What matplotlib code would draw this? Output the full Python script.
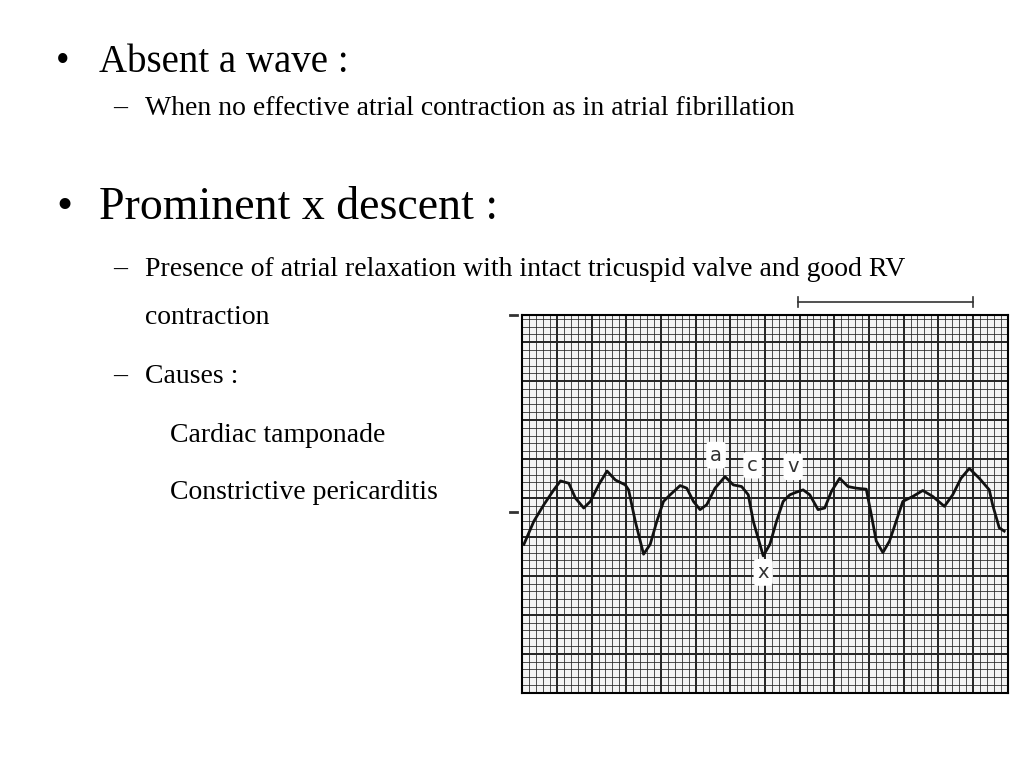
import numpy as np
import matplotlib.pyplot as plt

# trace (zoomed pixel coords, 3x)
trace_zx = [70, 100, 130, 160, 180, 205, 225, 250, 270, 295, 320, 345, 375, 385, 405, 430, 450, 470, 490,
            510, 540, 560, 580, 600, 620, 645, 675, 700, 725, 745, 760, 790, 810, 830, 850, 870, 890, 910,
            930, 955, 975, 995, 1020, 1045, 1070, 1100, 1115, 1130, 1150, 1170, 1190, 1210, 1240, 1270,
            1300, 1335, 1360, 1385, 1410, 1440, 1470, 1480, 1500, 1515]
trace_zy = [770, 700, 650, 605, 578, 585, 630, 660, 640, 590, 548, 575, 590, 605, 700, 800, 770, 700, 640,
            620, 592, 600, 640, 665, 650, 600, 565, 590, 595, 620, 700, 805, 770, 700, 640, 620, 612, 605,
            620, 665, 660, 610, 570, 595, 600, 603, 680, 760, 795, 760, 700, 640, 625, 607, 625, 655, 620,
            570, 540, 570, 605, 650, 720, 730]

wave_labels = ["a", "c", "v", "x"]
wave_zx = [648, 758, 880, 790]
wave_zy = [500, 530, 535, 855]

t = (np.array(trace_zx) - 65) / 104.3
p = 9.7 - (np.array(trace_zy) - 75) / 118.0

fig = plt.figure(figsize=(10.24, 7.68), dpi=100)
serif = "Liberation Serif"
big, huge, small = 28, 33, 20

fig.text(0.055, 0.919, "•", fontsize=big, family=serif, va="center")
fig.text(0.097, 0.919, "Absent a wave :", fontsize=big, family=serif, va="center")
fig.text(0.110, 0.859, "–", fontsize=small, family=serif, va="center")
fig.text(0.142, 0.859, "When no effective atrial contraction as in atrial fibrillation", fontsize=small,
         family=serif, va="center")
fig.text(0.055, 0.730, "•", fontsize=huge, family=serif, va="center")
fig.text(0.097, 0.730, "Prominent x descent :", fontsize=huge, family=serif, va="center")
fig.text(0.110, 0.649, "–", fontsize=small, family=serif, va="center")
fig.text(0.142, 0.649, "Presence of atrial relaxation with intact tricuspid valve and good RV", fontsize=small,
         family=serif, va="center")
fig.text(0.142, 0.586, "contraction", fontsize=small, family=serif, va="center")
fig.text(0.110, 0.510, "–", fontsize=small, family=serif, va="center")
fig.text(0.142, 0.510, "Causes :", fontsize=small, family=serif, va="center")
fig.text(0.166, 0.433, "Cardiac tamponade", fontsize=small, family=serif, va="center")
fig.text(0.166, 0.359, "Constrictive pericarditis", fontsize=small, family=serif, va="center")

ax = fig.add_axes([0.51, 0.098, 0.474, 0.492])
ax.set_xlim(0, 14)
ax.set_ylim(0, 9.7)
ax.set_facecolor("#f4f4f4")
for xv in np.arange(0, 14.01, 0.2):
    major = abs(xv - round(xv)) < 1e-6
    ax.axvline(xv, color="#222222", lw=1.4 if major else 0.55, zorder=1)
for yv in np.arange(0, 9.71, 0.2):
    major = abs(yv - round(yv)) < 1e-6
    ax.axhline(yv, color="#222222", lw=1.4 if major else 0.55, zorder=1)
ax.plot(t, p, color="#111111", lw=2, zorder=3)
for lab, zx, zy in zip(wave_labels, wave_zx, wave_zy):
    ax.text((zx - 65) / 104.3, 9.7 - (zy - 75) / 118.0, lab, fontsize=14, ha="center", va="center",
            color="#333333", zorder=4,
            bbox=dict(boxstyle="round,pad=0.2", fc="white", ec="none"))
ax.set_xticks([])
ax.set_yticks([])
for s in ax.spines.values():
    s.set_linewidth(1.5)

# scale bar above the strip and small side marks
fig.add_artist(plt.Line2D([798 / 1024, 973 / 1024], [1 - 302 / 768, 1 - 302 / 768], color="#333333", lw=1.2))
for xb in (798, 973):
    fig.add_artist(plt.Line2D([xb / 1024, xb / 1024], [1 - 297 / 768, 1 - 307 / 768], color="#333333", lw=1.2))
for yb in (315, 512):
    fig.add_artist(plt.Line2D([510 / 1024, 517 / 1024], [1 - yb / 768, 1 - yb / 768], color="#333333", lw=2))

fig.savefig("out.png", dpi=100)
